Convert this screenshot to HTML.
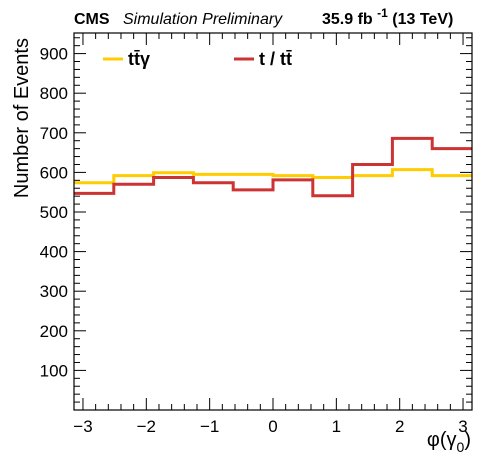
<!DOCTYPE html>
<html><head><meta charset="utf-8"><style>
body{margin:0;background:#fff;}
svg{display:block;font-family:"Liberation Sans",sans-serif;}
</style></head><body>
<svg id="c" width="496" height="472">
<text x="74" y="24" font-size="16" font-weight="bold">CMS</text>
<text x="123" y="24" font-size="16" font-style="italic">Simulation Preliminary</text>
<text x="322" y="24" font-size="16" font-weight="bold">35.9 fb <tspan dy="-7" font-size="12">-1</tspan><tspan dy="7"> (13 TeV)</tspan></text>
<text transform="translate(28,38) rotate(-90)" text-anchor="end" font-size="20">Number of Events</text>
<text x="471" y="446" text-anchor="end" font-size="20">φ(γ<tspan dy="6" font-size="14">0</tspan><tspan dy="-6">)</tspan></text>
<g id="ticks"></g><g id="series"></g>
<rect x="74" y="33" width="398" height="377" fill="none" stroke="#000" stroke-width="1.2"/>
<line x1="103" y1="59" x2="123" y2="59" stroke="#ffcc00" stroke-width="3"/>
<text x="128" y="65" font-size="18" font-weight="bold">tt̄γ</text>
<line x1="234" y1="59" x2="254" y2="59" stroke="#cc3333" stroke-width="3"/>
<text x="259" y="65" font-size="18" font-weight="bold">t / tt̄</text>
</svg>
<script>
const ttgValues=[574,592,599,595,595,592,587,592,607,592];
const ratioValues=[547,570,587,574,556,581,541,620,686,660];
const xTicks=[-3,-2,-1,0,1,2,3];
const xTickLabels=["−3","−2","−1","0","1","2","3"];
const yTicks=[100,200,300,400,500,600,700,800,900];
const L=74,R=472,T=33,B=410,XMIN=-Math.PI,XMAX=Math.PI,YMIN=0,YMAX=952;
const sx=v=>L+(v-XMIN)/(XMAX-XMIN)*(R-L);
const sy=v=>B-(v-YMIN)/(YMAX-YMIN)*(B-T);
const NS="http://www.w3.org/2000/svg";
const tg=document.getElementById('ticks');
function ln(x1,y1,x2,y2,p){const e=document.createElementNS(NS,'line');e.setAttribute('x1',x1);e.setAttribute('y1',y1);e.setAttribute('x2',x2);e.setAttribute('y2',y2);e.setAttribute('stroke','#000');e.setAttribute('stroke-width','1');p.appendChild(e);return e;}
for(let v=-3.2;v<=3.2;v+=0.2){const r=Math.round(v*5)/5;if(r<XMIN||r>XMAX)continue;const x=sx(r);const maj=Math.abs(r-Math.round(r))<1e-6;const len=maj?12:6;
const a=ln(x,B,x,B-len,tg);
const b=ln(x,T,x,T+len,tg);}
for(let v=20;v<YMAX;v+=20){const y=sy(v);const maj=v%100===0;const len=maj?12:6;
const a=ln(L,y,L+len,y,tg);
const b=ln(R,y,R-len,y,tg);}
xTicks.forEach((v,i)=>{const t=document.createElementNS(NS,'text');t.setAttribute('x',sx(v));t.setAttribute('y',432);t.setAttribute('text-anchor','middle');t.setAttribute('font-size','17');t.textContent=xTickLabels[i];

tg.appendChild(t);});
yTicks.forEach(v=>{const t=document.createElementNS(NS,'text');t.setAttribute('x',68);t.setAttribute('y',sy(v)+6);t.setAttribute('text-anchor','end');t.setAttribute('font-size','17');t.textContent=v;

tg.appendChild(t);});
const sg=document.getElementById('series');
function hist(vals,color,name){const n=vals.length,w=(XMAX-XMIN)/n;let d='';
vals.forEach((v,i)=>{const x0=sx(XMIN+i*w),x1=sx(XMIN+(i+1)*w),y=sy(v);d+=(i===0?'M':'L')+x0+','+y+'L'+x1+','+y;});
const p=document.createElementNS(NS,'path');p.setAttribute('d',d);p.setAttribute('fill','none');p.setAttribute('stroke',color);p.setAttribute('stroke-width','3');

sg.appendChild(p);}
hist(ttgValues,'#ffcc00','ttgamma-histogram');
hist(ratioValues,'#cc3333','t-over-tt-histogram');
</script>
</body></html>
